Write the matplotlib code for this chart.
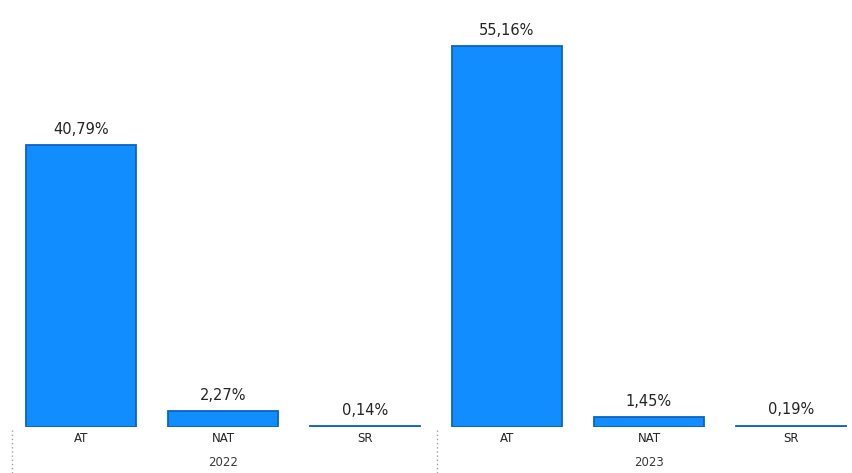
import matplotlib.pyplot as plt
from matplotlib.lines import Line2D

# --- Data ---
years = ["2022", "2023"]
categories = ["AT", "NAT", "SR"]
values_2022 = [40.79, 2.27, 0.14]
values_2023 = [55.16, 1.45, 0.19]

values = values_2022 + values_2023
labels = categories * len(years)
positions = list(range(len(values)))

fig = plt.figure(figsize=(8.52, 4.73), dpi=100)
W, H = 852, 473
base_y = 427
top_y = 18
px_per_pct = 6.91
ax = fig.add_axes([10 / W, (H - base_y) / H, 842 / W, (base_y - top_y) / H])

bars = ax.bar(positions, values, width=0.775, color="#118DFF",
              edgecolor="#0A64C0", linewidth=1.3)

for x, v in zip(positions, values):
    ax.annotate(f"{v:.2f}%".replace(".", ","), (x, v), xytext=(0, 6),
                textcoords="offset points", ha="center", va="bottom",
                fontsize=10.5, color="#252423")

ax.set_xlim(-0.5, 5.43)
ax.set_ylim(0, (base_y - top_y) / px_per_pct)
ax.axis("off")

# category and year labels below the bars
for x, lab in zip(positions, labels):
    ax.text(x, -11 / px_per_pct, lab, ha="center", va="center", fontsize=8.5,
            color="#252423")
for i, yr in enumerate(years):
    ax.text(i * 3 + 1, -35 / px_per_pct, yr, ha="center", va="center",
            fontsize=8.5, color="#3B3A39")

# dotted group separators
for px in (12, 437):
    fig.add_artist(Line2D([px / W, px / W], [0, (H - 428) / H],
                          color="#A19F9D", linestyle=(0, (1, 2)),
                          linewidth=1))

fig.savefig("out.png", dpi=100)
